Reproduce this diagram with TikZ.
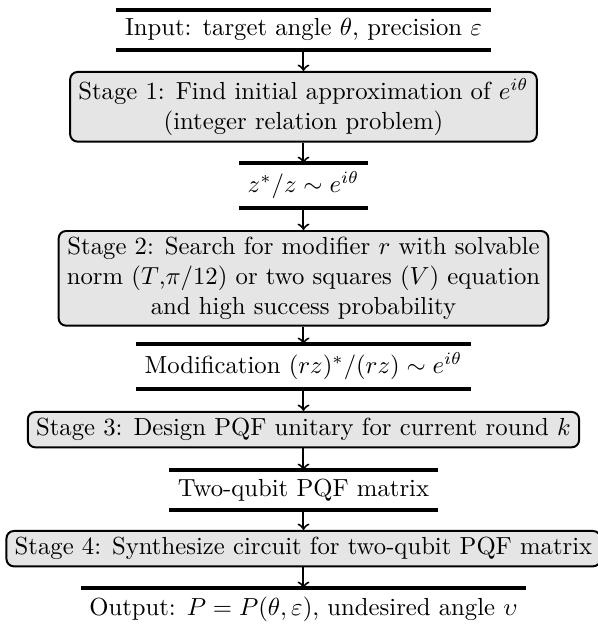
\documentclass[tikz,border=0pt]{standalone}
\usetikzlibrary{positioning,calc}
\tikzset{
  stagebox/.style={draw,thick,fill=gray!20,rounded corners=3pt,align=center,inner ysep=2.6pt,anchor=north},
  databox/.style={align=center,anchor=north},
  flowarrow/.style={->,thick}
}
\newcommand{\flowdata}[4]{%
  \node[databox] (#1) at (0,#2) {#3};
  \draw[line width=1.6pt] (#1.north west) -- (#1.north east);
  \ifnum#4=1 \draw[line width=1.6pt] (#1.south west) -- (#1.south east);\fi
}

\begin{document}
\begin{tikzpicture}
  \useasboundingbox (-4.317,0) rectangle (4.189,-8.919);
  \flowdata{inp}{-0.142}{Input: target angle $\theta$, precision $\varepsilon$}{1}
  \node[stagebox] (stgone) at (0,-1.010) {Stage 1: Find initial approximation of $e^{i\theta}$\\(integer relation problem)};
  \flowdata{zfrac}{-2.319}{$z^*/z \sim e^{i\theta}$}{1}
  \node[stagebox] (stgtwo) at (0,-3.272) {Stage 2: Search for modifier $r$ with solvable\\norm ($T$,$\pi/12$) or two squares ($V$) equation\\and high success probability};
  \flowdata{modif}{-4.893}{Modification $(rz)^*/(rz) \sim e^{i\theta}$}{1}
  \node[stagebox] (stgthree) at (0,-5.846) {Stage 3: Design PQF unitary for current round $k$};
  \flowdata{pqfmat}{-6.686}{Two-qubit PQF matrix}{1}
  \node[stagebox] (stgfour) at (0,-7.539) {Stage 4: Synthesize circuit for two-qubit PQF matrix};
  \flowdata{outp}{-8.364}{Output: $P=P(\theta,\varepsilon)$, undesired angle $\upsilon$}{0}
  \draw[flowarrow] (inp) -- (stgone);
  \draw[flowarrow] (stgone) -- (zfrac);
  \draw[flowarrow] (zfrac) -- (stgtwo);
  \draw[flowarrow] (stgtwo) -- (modif);
  \draw[flowarrow] (modif) -- (stgthree);
  \draw[flowarrow] (stgthree) -- (pqfmat);
  \draw[flowarrow] (pqfmat) -- (stgfour);
  \draw[flowarrow] (stgfour) -- (outp);
\end{tikzpicture}
\end{document}
